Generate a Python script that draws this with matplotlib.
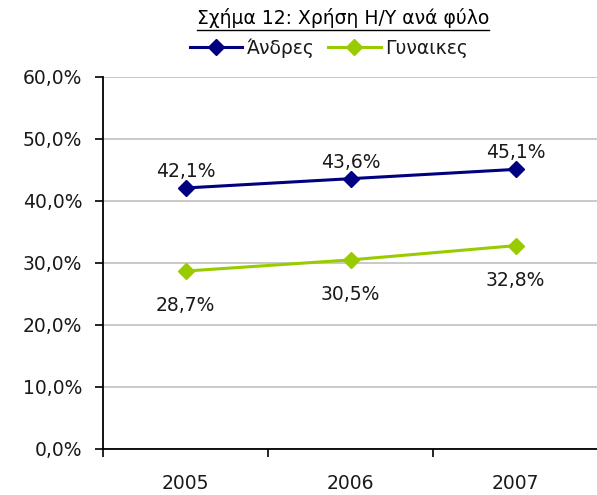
import matplotlib
matplotlib.use("Agg")
import matplotlib.pyplot as plt
from matplotlib.lines import Line2D

years = ["2005", "2006", "2007"]
men = [42.1, 43.6, 45.1]
women = [28.7, 30.5, 32.8]
series_names = ["Άνδρες", "Γυναικες"]
title = "Σχήμα 12: Χρήση Η/Υ ανά φύλο"
yticks = [0, 10, 20, 30, 40, 50, 60]

plt.rcParams['font.family'] = ['DejaVu Sans']
FS = 13.5
fig = plt.figure(figsize=(5.97, 4.95), dpi=100)
ax = fig.add_axes([103/597, 1-449/495, 495/597, (449-77)/495])

x = list(range(len(years)))
navy = "#000080"
green = "#99CC00"
ax.plot(x, men, color=navy, lw=2.2, marker="D", ms=8, label=series_names[0], clip_on=False, zorder=3)
ax.plot(x, women, color=green, lw=2.2, marker="D", ms=8, label=series_names[1], clip_on=False, zorder=3)

def fmt(v):
    return f"{v:.1f}%".replace(".", ",")

for xi, v in zip(x, men):
    ax.annotate(fmt(v), (xi, v), xytext=(0, 12), textcoords="offset points",
                ha="center", va="center", fontsize=FS, color="#1a1a1a")
for xi, v in zip(x, women):
    ax.annotate(fmt(v), (xi, v), xytext=(0, -25), textcoords="offset points",
                ha="center", va="center", fontsize=FS, color="#1a1a1a")

ax.set_xlim(-0.5, len(years) - 0.5)
ax.set_ylim(0, 60)
ax.set_yticks(yticks)
ax.set_yticklabels([fmt(v) for v in yticks], fontsize=FS, color="#1a1a1a")
ax.set_xticks(x)
ax.set_xticklabels(years, fontsize=FS, color="#1a1a1a")
ax.tick_params(axis="x", which="major", length=0, pad=18)
ax.set_xticks([i - 0.5 for i in range(len(years) + 1)], minor=True)
ax.tick_params(axis="x", which="minor", length=6, width=1.2, direction="out")
ax.tick_params(axis="y", length=6, width=1.2, pad=9)

ax.grid(axis="y", color="#c0c0c0", lw=1.2)
ax.set_axisbelow(True)
for s in ["top", "right"]:
    ax.spines[s].set_visible(False)
for s in ["left", "bottom"]:
    ax.spines[s].set_linewidth(1.3)
    ax.spines[s].set_zorder(4)

leg = fig.legend(loc="center", bbox_to_anchor=(329/597, 1-48/495), ncol=2, frameon=False,
                 fontsize=FS, handlelength=2.8, handletextpad=0.25, columnspacing=0.7,
                 borderpad=0, labelcolor="#1a1a1a")

t = fig.text(343/597, 1-18/495, title, ha="center", va="center", fontsize=FS, color="#000000")
fig.canvas.draw()
bb = t.get_window_extent().transformed(fig.transFigure.inverted())
yl = bb.y0 - 1.5/495
fig.add_artist(Line2D([bb.x0, bb.x1], [yl, yl], transform=fig.transFigure, color="black", lw=1.0))

fig.savefig("out.png", dpi=100, facecolor="white")
